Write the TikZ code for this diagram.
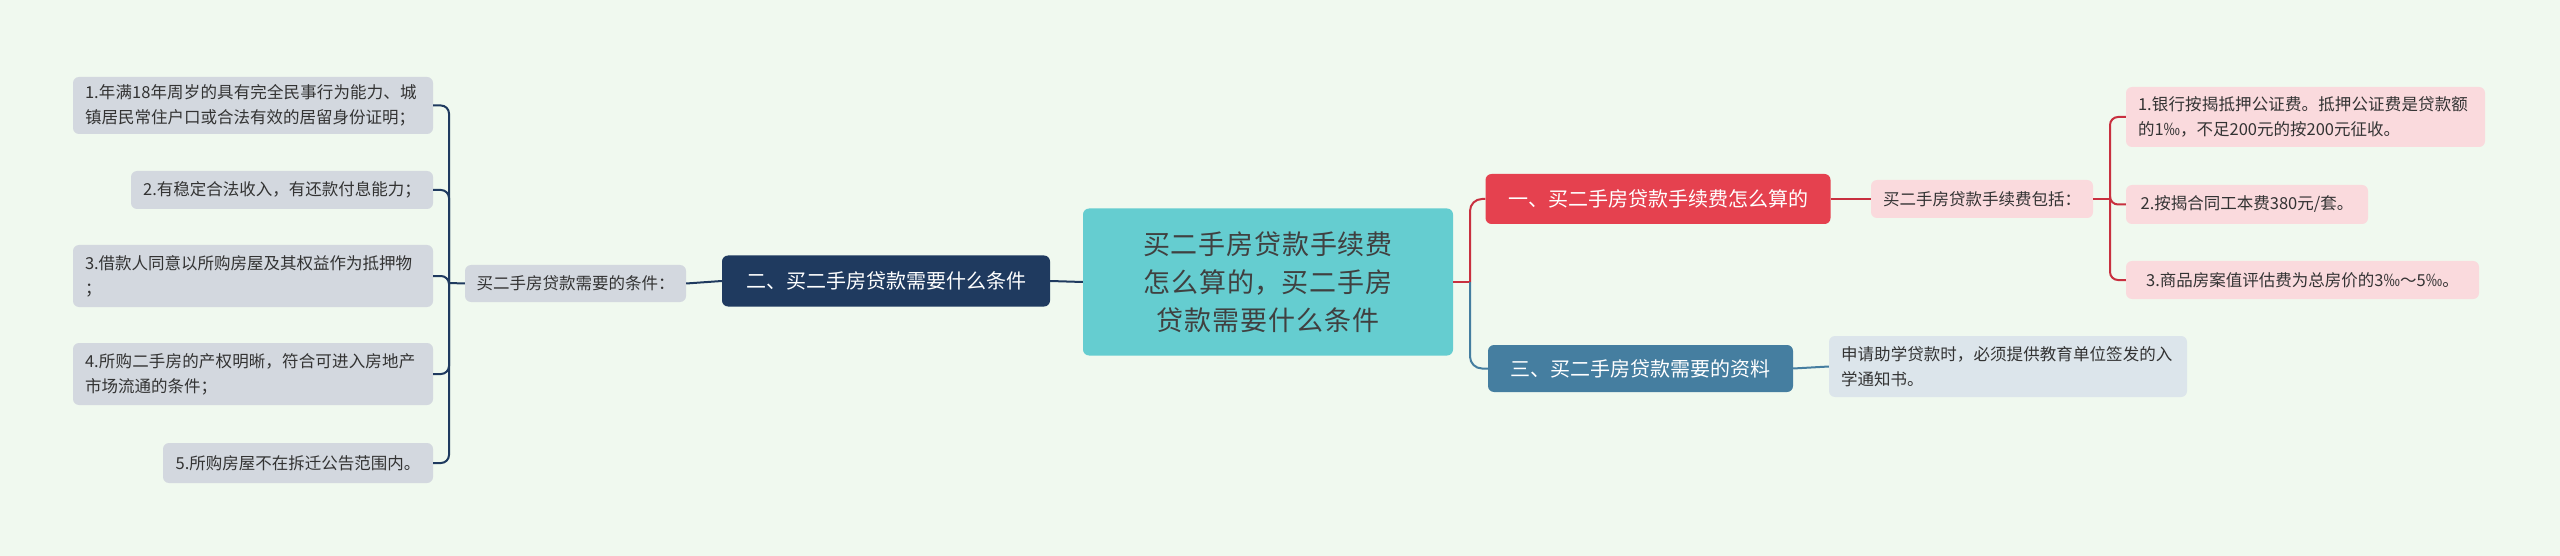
\documentclass[tikz,border=0pt]{standalone}
\usepackage{fontspec}
\setmainfont{Noto Sans CJK SC}
\XeTeXlinebreaklocale "zh"
\XeTeXlinebreakskip=0pt plus 1pt
\begin{document}
\begin{tikzpicture}[x=1pt,y=-1pt,
  box/.style={rounded corners=6pt,inner sep=0pt,align=left,font=\fontsize{16.5}{25}\selectfont,text=black!80},
  grey/.style={box,fill=gray1},
  pink/.style={box,fill=pink1},
  lb/.style={box,fill=lblue},
  main/.style={rounded corners=6pt,inner sep=0pt,align=center,text=white,font=\fontsize{20}{26}\selectfont},
  ln/.style={line width=2pt,rounded corners=8pt}]
\definecolor{bg}{HTML}{F0F9EF}
\definecolor{gray1}{HTML}{D3D8DF}
\definecolor{pink1}{HTML}{FADADD}
\definecolor{lblue}{HTML}{DCE5EB}
\definecolor{navy}{HTML}{1F3A5F}
\definecolor{cyan1}{HTML}{65CDD0}
\definecolor{red1}{HTML}{E5414F}
\definecolor{redl}{HTML}{C8303F}
\definecolor{blue1}{HTML}{457EA0}
\fill[bg] (0,0) rectangle (2560,556);
\useasboundingbox (0,0) rectangle (2560,556);
% center
\node[main,fill=cyan1,text=black!75,minimum width=370,minimum height=147,text width=340,font=\fontsize{27}{38}\selectfont] (c) at (1268,282) {买二手房贷款手续费怎么算的，买二手房贷款需要什么条件};
% left
\node[main,fill=navy,minimum width=328,minimum height=51] (n2) at (886,281) {二、买二手房贷款需要什么条件};
\node[grey,minimum width=221,minimum height=37,align=center] (l) at (575.5,283.5) {买二手房贷款需要的条件：};
\node[grey,minimum width=360,minimum height=57,text width=336] (a1) at (253,105.5) {1.年满18年周岁的具有完全民事行为能力、城镇居民常住户口或合法有效的居留身份证明；};
\node[grey,minimum width=302,minimum height=38,align=center] (a2) at (282,190) {2.有稳定合法收入，有还款付息能力；};
\node[grey,minimum width=360,minimum height=62,text width=336] (a3) at (253,276) {3.借款人同意以所购房屋及其权益作为抵押物\\；};
\node[grey,minimum width=360,minimum height=62,text width=336] (a4) at (253,374) {4.所购二手房的产权明晰，符合可进入房地产市场流通的条件；};
\node[grey,minimum width=270,minimum height=40,align=center] (a5) at (298,463) {5.所购房屋不在拆迁公告范围内。};
% right
\node[main,fill=red1,minimum width=345,minimum height=50] (n1) at (1658,199) {一、买二手房贷款手续费怎么算的};
\node[pink,minimum width=222,minimum height=38,align=center] (p) at (1982,199) {买二手房贷款手续费包括：};
\node[pink,minimum width=359,minimum height=60,text width=335] (r1) at (2305.5,117) {1.银行按揭抵押公证费。抵押公证费是贷款额的1‰，不足200元的按200元征收。};
\node[pink,minimum width=242,minimum height=39,align=center] (r2) at (2247,204.5) {2.按揭合同工本费380元/套。};
\node[pink,minimum width=353,minimum height=38,align=center] (r3) at (2302.5,280) {3.商品房案值评估费为总房价的3‰～5‰。};
\node[main,fill=blue1,minimum width=305,minimum height=47] (n3) at (1640.5,368.5) {三、买二手房贷款需要的资料};
\node[lb,minimum width=358,minimum height=61,text width=334] (s) at (2008,366.5) {申请助学贷款时，必须提供教育单位签发的入学通知书。};
% connectors
\coordinate (jl) at (449,283);
\draw[navy,line width=2pt] (n2.west) -- (l.east);
\draw[navy,line width=2pt] (c.west) -- (n2.east);
\draw[navy,line width=2pt] (l.west) -- (jl);
\foreach \b in {a1,a2,a3,a4,a5} \draw[navy,ln] (jl) |- (\b.east);
\coordinate (jc) at (1470,282);
\draw[redl,line width=2pt] (c.east) -- (jc);
\draw[redl,ln,rounded corners=12pt] (jc) |- (n1.west);
\draw[blue1,ln,rounded corners=12pt] (jc) |- (n3.west);
\draw[redl,line width=2pt] (n1.east) -- (p.west);
\coordinate (jr) at (2110,199);
\draw[redl,line width=2pt] (p.east) -- (jr);
\foreach \b in {r1,r2,r3} \draw[redl,ln] (jr) |- (\b.west);
\draw[blue1,line width=2pt] (n3.east) -- (s.west);
\end{tikzpicture}
\end{document}
